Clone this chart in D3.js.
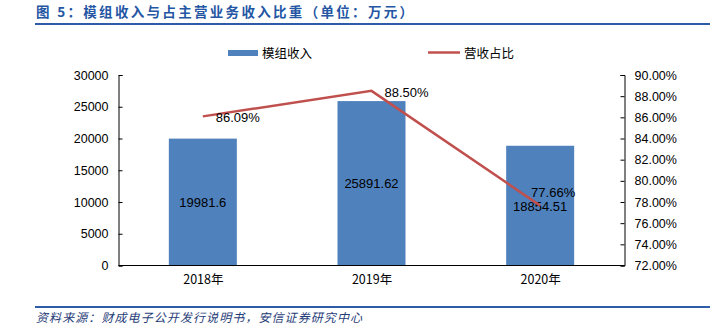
<!DOCTYPE html>
<html><head><meta charset="utf-8">
<script src="https://cdn.jsdelivr.net/npm/d3@7"></script>
<style>
body{margin:0;background:#fff;}
svg{display:block;font-family:"Liberation Sans",Arial,sans-serif;}
</style></head>
<body><svg id="c" width="725" height="333"></svg>
<script>
const categories = ["2018年","2019年","2020年"];
const revenue = [19981.6, 25891.62, 18854.51];
const revenueLabels = ["19981.6","25891.62","18854.51"];
const share = [86.09, 88.50, 77.66];
const shareLabels = ["86.09%","88.50%","77.66%"];
const leftTicks = [0,5000,10000,15000,20000,25000,30000];
const rightTicks = [72,74,76,78,80,82,84,86,88,90];
const seriesNames = ["模组收入","营收占比"];
const titleText = "图 5：模组收入与占主营业务收入比重（单位：万元）";
const sourceText = "资料来源：财成电子公开发行说明书，安信证券研究中心";

const svg = d3.select("#c");
const L = 118.5, R = 624.5, T = 75, B = 265.5;
const cjk = '"Noto Sans CJK SC","Liberation Sans",sans-serif';

// title + rules
svg.append("text").attr("x",36).attr("y",17).attr("fill","#2456a4")
  .attr("font-family",cjk).attr("font-weight","bold").attr("font-size",13.5)
  .attr("textLength",377).attr("lengthAdjust","spacing").text(titleText);
svg.append("line").attr("x1",35).attr("x2",710).attr("y1",24).attr("y2",24)
  .attr("stroke","#2e5ca8").attr("stroke-width",2);
svg.append("line").attr("x1",35).attr("x2",710).attr("y1",307).attr("y2",307)
  .attr("stroke","#2e5ca8").attr("stroke-width",2);
svg.append("text").attr("x",36).attr("y",322).attr("fill","#1f3c78")
  .attr("font-family",cjk).attr("font-style","italic").attr("font-size",12)
  .attr("transform","skewX(0)")
  .attr("textLength",326).attr("lengthAdjust","spacing").text(sourceText);

const x = d3.scaleBand().domain(categories).range([L,R]).paddingInner(0.6).paddingOuter(0.3);
const xc = d3.scalePoint().domain(categories).range([L,R]).padding(0.5);
const yL = d3.scaleLinear().domain([0,30000]).range([B,T]);
const yR = d3.scaleLinear().domain([72,90]).range([B,T]);

// bars
svg.append("g").selectAll("rect").data(revenue).join("rect")
  .attr("x",(d,i)=>xc(categories[i])-34).attr("width",68)
  .attr("y",d=>yL(d)).attr("height",d=>B-yL(d)).attr("fill","#4f81bd");

// axes
const gl = svg.append("g").attr("transform",`translate(${L},0)`)
  .call(d3.axisLeft(yL).tickValues(leftTicks).tickSize(-4).tickPadding(10).tickFormat(d3.format("d")));
const gr = svg.append("g").attr("transform",`translate(${R},0)`)
  .call(d3.axisRight(yR).tickValues(rightTicks).tickSize(-4).tickPadding(10).tickFormat(d=>d.toFixed(2)+"%"));
const gb = svg.append("g").attr("transform",`translate(0,${B})`)
  .call(d3.axisBottom(xc).tickSize(0).tickPadding(10));
[gl,gr,gb].forEach(g=>{
  g.selectAll("path,line").attr("stroke","#000").attr("stroke-width",1);
  g.selectAll("text").attr("font-size",12.5).attr("fill","#000")
    .attr("font-family",'"Liberation Sans",Arial,sans-serif');
});
gb.select("path").attr("d",`M${L},0H${R}`);
gb.selectAll("text").attr("font-family",cjk).attr("font-size",12.5);

// bar labels
svg.append("g").selectAll("text").data(revenue).join("text")
  .attr("x",(d,i)=>xc(categories[i])).attr("y",d=>(yL(d)+B)/2+5)
  .attr("text-anchor","middle").attr("font-size",13).attr("fill","#000")
  .text((d,i)=>revenueLabels[i]);

// line
const line = d3.line().x((d,i)=>xc(categories[i])).y(d=>yR(d));
svg.append("path").datum(share).attr("d",line).attr("fill","none")
  .attr("stroke","#c0504d").attr("stroke-width",2.5);
const offs = [[35,6],[35,6],[13,-9]];
svg.append("g").selectAll("text").data(share).join("text")
  .attr("x",(d,i)=>xc(categories[i])+offs[i][0]).attr("y",(d,i)=>yR(d)+offs[i][1])
  .attr("text-anchor","middle").attr("font-size",13).attr("fill","#000")
  .text((d,i)=>shareLabels[i]);

// legend
svg.append("rect").attr("x",228).attr("y",50).attr("width",30).attr("height",6).attr("fill","#4f81bd");
svg.append("text").attr("x",262).attr("y",58).attr("font-family",cjk).attr("font-size",12.5).attr("fill","#000").text(seriesNames[0]);
svg.append("line").attr("x1",428).attr("x2",460).attr("y1",52.5).attr("y2",52.5).attr("stroke","#c0504d").attr("stroke-width",2.5);
svg.append("text").attr("x",464).attr("y",58).attr("font-family",cjk).attr("font-size",12.5).attr("fill","#000").text(seriesNames[1]);
</script></body></html>
